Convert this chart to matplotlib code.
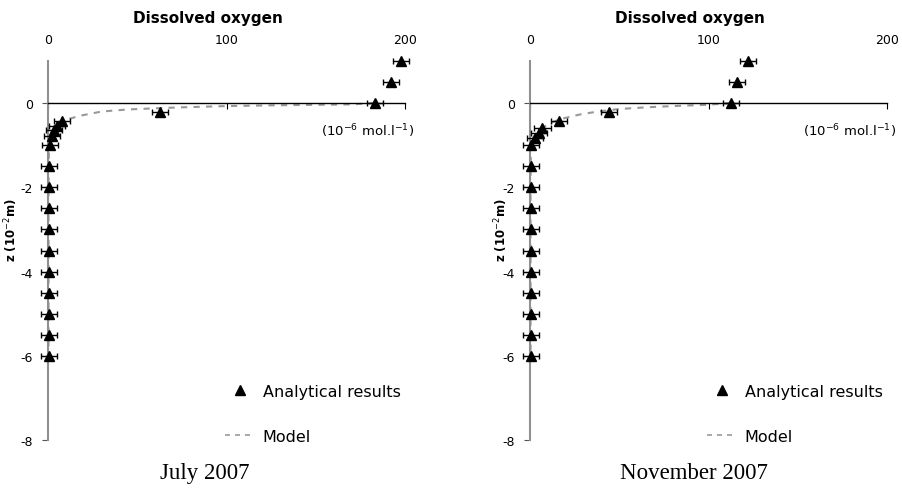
import matplotlib
matplotlib.use("Agg")
import matplotlib.pyplot as plt
from matplotlib.lines import Line2D

# measured profiles (z in 1e-2 m, O2 in 1e-6 mol/l)
july_z = [1.0, 0.5, 0.0, -0.22, -0.42, -0.55, -0.65, -0.78, -1.0, -1.5,
          -2.0, -2.5, -3.0, -3.5, -4.0, -4.5, -5.0, -5.5, -6.0]
july_o2 = [198, 192, 183, 63, 7.6, 5, 3.3, 2.3, 1, 0.8,
           0.8, 0.8, 0.8, 0.8, 0.8, 0.8, 0.8, 0.8, 0.8]
nov_z = [1.0, 0.5, 0.0, -0.2, -0.42, -0.6, -0.72, -0.82, -1.0, -1.5,
         -2.0, -2.5, -3.0, -3.5, -4.0, -4.5, -5.0, -5.5, -6.0]
nov_o2 = [122, 116, 112.6, 44, 16, 7, 5, 3, 0.5, 0.5,
          0.5, 0.5, 0.5, 0.5, 0.5, 0.5, 0.5, 0.5, 0.5]
err = 4.5

# model curves
july_mz = [0, -0.03, -0.05, -0.07, -0.1, -0.12, -0.15, -0.2, -0.3, -0.42, -0.55, -0.7, -0.9, -1.2, -2.0, -6.0]
july_mo2 = [183, 170, 130, 100, 75, 62, 45, 30, 18, 8, 4, 2, 1, 0.5, 0.3, 0.3]
nov_mz = [0, -0.04, -0.07, -0.1, -0.14, -0.2, -0.27, -0.38, -0.5, -0.65, -0.8, -1.0, -2.0, -6.0]
nov_mo2 = [112.6, 99, 80, 65, 50, 38, 28, 17, 10, 5, 2, 0.5, 0.3, 0.3]

xticks = [0, 100, 200]
yticks = [0, -2, -4, -6, -8]

panels = [
    ("July 2007", july_z, july_o2, july_mz, july_mo2),
    ("November 2007", nov_z, nov_o2, nov_mz, nov_mo2),
]

plt.rcParams['font.family'] = ['DejaVu Sans']
plt.rcParams['axes.unicode_minus'] = False
fig = plt.figure(figsize=(9.02, 4.89), dpi=100)

lefts = [48 / 902, 530 / 902]
ylab_x = [-0.078, -0.056]
head_x = [0.448, 0.448]
name_x = [0.44, 0.46]
for i, (name, z, o2, mz, mo2) in enumerate(panels):
    ax = fig.add_axes([lefts[i], 1 - 441 / 489, 357 / 902, 379 / 489])
    ax.set_xlim(0, 200)
    ax.set_ylim(-8, 1.0)
    ax.spines['top'].set_visible(False)
    ax.spines['right'].set_visible(False)
    ax.spines['left'].set_color('#909090')
    ax.spines['left'].set_linewidth(1.5)
    ax.spines['bottom'].set_position(('data', 0))
    ax.spines['bottom'].set_color('black')
    ax.spines['bottom'].set_linewidth(1.0)

    ax.set_xticks(xticks)
    ax.set_yticks(yticks)
    ax.tick_params(axis='x', bottom=True, top=False, labelbottom=False, labeltop=True,
                   direction='out', length=4, labelsize=9, pad=7)
    ax.tick_params(axis='y', direction='out', length=4, color='#555555', labelsize=9, pad=7)

    ax.plot(mo2, mz, color='#999999', lw=1.5, ls=(0, (3, 3)), zorder=2)
    ax.errorbar(o2, z, xerr=err, fmt='^', color='black', ms=7, ecolor='black',
                elinewidth=1, capsize=2.5, clip_on=False, zorder=3)

    ax.set_ylabel('z (10$^{-2}$m)', fontweight='bold', fontsize=8.5)
    ax.yaxis.set_label_coords(ylab_x[i], 0.557)
    ax.text(head_x[i], 1.0 + 44 / 379, 'Dissolved oxygen', transform=ax.transAxes,
            ha='center', va='center', fontsize=11, fontweight='bold')
    ax.text(1.0 + 9 / 357, (441 - 131) / 379, '(10$^{-6}$ mol.l$^{-1}$)', transform=ax.transAxes,
            ha='right', va='center', fontsize=9.5)
    ax.text(name_x[i], -33 / 379, name, transform=ax.transAxes,
            ha='center', va='center', fontsize=16.5, family='Liberation Serif')

    handles = [Line2D([], [], marker='^', ls='none', color='black', ms=7),
               Line2D([], [], color='#999999', lw=1.2, ls=(0, (3, 3)))]
    ax.legend(handles, ['Analytical results', 'Model'], frameon=False,
              loc='upper left', bbox_to_anchor=(0.496, 0.149),
              fontsize=11.5, labelspacing=1.9, handlelength=1.9, handletextpad=0.45,
              borderpad=0, borderaxespad=0)

fig.savefig('out.png', dpi=100)
